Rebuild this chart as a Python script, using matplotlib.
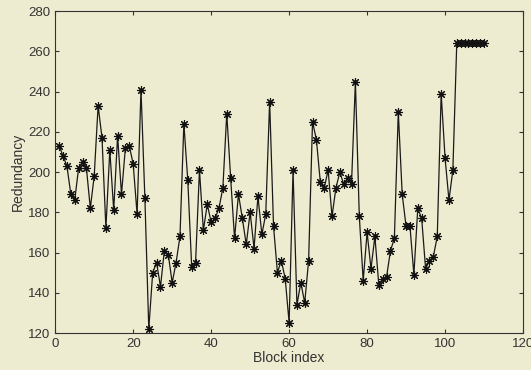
import matplotlib
matplotlib.use("Agg")
import matplotlib.pyplot as plt
import numpy as np

# redundancy per block
block_index = np.arange(1, 111)
redundancy = [
    213, 208, 203, 189, 186, 202, 205, 202, 182, 198,
    233, 217, 172, 211, 181, 218, 189, 212, 213, 204,
    179, 241, 187, 122, 150, 155, 143, 161, 159, 145,
    155, 168, 224, 196, 153, 155, 201, 171, 184, 175,
    177, 182, 192, 229, 197, 167, 189, 177, 164, 180,
    162, 188, 169, 179, 235, 173, 150, 156, 147, 125,
    201, 134, 145, 135, 156, 225, 216, 195, 192, 201,
    178, 192, 200, 194, 197, 194, 245, 178, 146, 170,
    152, 168, 144, 147, 148, 161, 167, 230, 189, 173,
    173, 149, 182, 177, 152, 156, 158, 168, 239, 207,
    186, 201, 264, 264, 264, 264, 264, 264, 264, 264,
]
x_ticks = [0, 20, 40, 60, 80, 100, 120]
y_ticks = [120, 140, 160, 180, 200, 220, 240, 260, 280]

bg = "#eeecd0"
plt.rcParams["font.family"] = ["Liberation Sans", "DejaVu Sans"]

fig = plt.figure(figsize=(5.31, 3.70), dpi=100, facecolor=bg)
ax = fig.add_axes([0.104, 0.10, 0.881, 0.870], facecolor=bg)

# matlab-style '*' marker: 4 crossing strokes
ax.plot(block_index, redundancy, color="#1a1a1a", linewidth=0.9,
        marker=(8, 2, 0), markersize=6.5, markeredgewidth=0.8,
        markeredgecolor="#111111")
ax.plot(block_index, redundancy, linestyle="none", marker="o",
        markersize=2.0, color="#111111")

ax.set_xlim(0, 120)
ax.set_ylim(120, 280)
ax.set_xticks(x_ticks)
ax.set_yticks(y_ticks)
ax.tick_params(direction="in", top=True, right=True, length=3,
               labelsize=9.5, colors="#333333", width=0.8)
for s in ax.spines.values():
    s.set_color("#333333")
    s.set_linewidth(0.8)

ax.set_xlabel("Block index", fontsize=10, color="#333333", labelpad=1)
ax.set_ylabel("Redundancy", fontsize=10, color="#333333", labelpad=2)

fig.savefig("out.png", dpi=100, facecolor=bg)
